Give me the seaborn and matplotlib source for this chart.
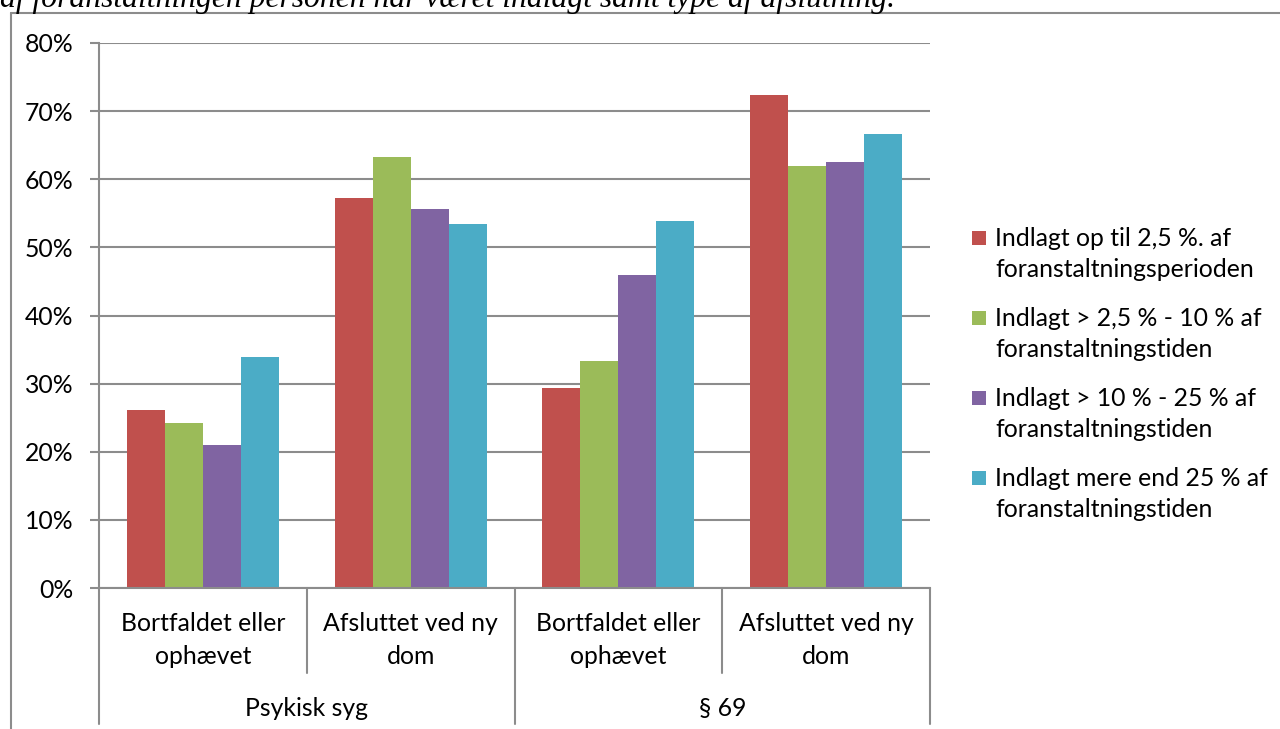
import matplotlib
matplotlib.use("Agg")
import matplotlib.pyplot as plt
import matplotlib.transforms as mtrans
from matplotlib.lines import Line2D
from matplotlib.patches import Rectangle
import seaborn as sns
import pandas as pd

# ---------------- data ----------------
cat_ids = ["psyk_bort", "psyk_afsl", "p69_bort", "p69_afsl"]
sub_labels = ["Bortfaldet eller\nophævet", "Afsluttet ved ny\ndom",
              "Bortfaldet eller\nophævet", "Afsluttet ved ny\ndom"]
group_labels = ["Psykisk syg", "§ 69"]
series_labels = [
    "Indlagt op til 2,5 %. af\nforanstaltningsperioden",
    "Indlagt > 2,5 % - 10 % af\nforanstaltningstiden",
    "Indlagt > 10 % - 25 % af\nforanstaltningstiden",
    "Indlagt mere end 25 % af\nforanstaltningstiden",
]
vals_s1 = [0.261, 0.572, 0.293, 0.723]
vals_s2 = [0.242, 0.632, 0.333, 0.620]
vals_s3 = [0.210, 0.557, 0.459, 0.625]
vals_s4 = [0.339, 0.535, 0.538, 0.667]
colors = ["#C0504D", "#9BBB59", "#8064A2", "#4BACC6"]
ytick_vals = [0.0, 0.1, 0.2, 0.3, 0.4, 0.5, 0.6, 0.7, 0.8]
ytick_labels = ["0%", "10%", "20%", "30%", "40%", "50%", "60%", "70%", "80%"]
caption = "af foranstaltningen personen har været indlagt samt type af afslutning."

rows = []
for lab, vals in zip(series_labels, [vals_s1, vals_s2, vals_s3, vals_s4]):
    for c, v in zip(cat_ids, vals):
        rows.append({"cat": c, "series": lab, "val": v})
df = pd.DataFrame(rows)

# ---------------- figure ----------------
sns.set_theme(style="white")
plt.rcParams["font.family"] = ["Lato", "DejaVu Sans"]

W, H = 1280, 729
fig = plt.figure(figsize=(W / 100, H / 100), dpi=100)
fig.patch.set_facecolor("white")


def fx(px):
    return px / W


def fy(py):
    return 1 - py / H


GRID = "#8c8c8c"
FS = 17.8

ax = fig.add_axes([fx(99), fy(588), fx(930) - fx(99), fy(43) - fy(588)])
sns.barplot(data=df, x="cat", y="val", hue="series", order=cat_ids,
            hue_order=series_labels, palette=colors, saturation=1,
            width=0.732, linewidth=0, errorbar=None, legend=False, ax=ax)

ax.set_xlim(-0.5, 3.5)
ax.set_ylim(0, 0.8)
ax.set_yticks(ytick_vals)
ax.set_yticklabels(ytick_labels)
ax.set_xticks([])
ax.set_xlabel("")
ax.set_ylabel("")
ax.yaxis.grid(True, color=GRID, lw=1.5)
ax.set_axisbelow(True)
for s in ["top", "right"]:
    ax.spines[s].set_visible(False)
for s in ["left", "bottom"]:
    ax.spines[s].set_color(GRID)
    ax.spines[s].set_linewidth(1.5)
ax.tick_params(axis="y", which="major", left=True, length=6.5, width=1.5,
               color=GRID, pad=12, labelsize=FS, labelcolor="black")
ax.set_facecolor("white")

# category axis separators and labels
blend = mtrans.blended_transform_factory(ax.transData, fig.transFigure)
for xv, bottom_px in [(-0.5, 724), (0.5, 673), (1.5, 724), (2.5, 673), (3.5, 724)]:
    ax.add_line(Line2D([xv, xv], [fy(588), fy(bottom_px)], transform=blend,
                       color=GRID, lw=1.5, clip_on=False))
for i, lab in enumerate(sub_labels):
    ax.text(i, fy(640), lab, transform=blend, ha="center", va="center",
            fontsize=FS, linespacing=1.55, color="black")
for j, lab in enumerate(group_labels):
    ax.text(0.5 + 2 * j, fy(708), lab, transform=blend, ha="center",
            va="center", fontsize=FS, color="black")

# legend (manual)
for k, (lab, col) in enumerate(zip(series_labels, colors)):
    cy = 238 + 80 * k
    fig.add_artist(Rectangle((fx(972), fy(cy + 7)), fx(14), 14 / H,
                             transform=fig.transFigure, facecolor=col,
                             edgecolor="none"))
    fig.text(fx(995), fy(cy + 16), lab, ha="left", va="center",
             fontsize=FS, linespacing=1.45, color="black")

# outer frame
fig.add_artist(Line2D([fx(11), 1], [fy(13), fy(13)], transform=fig.transFigure,
                      color=GRID, lw=1.5))
fig.add_artist(Line2D([fx(11), fx(11)], [fy(13), 0], transform=fig.transFigure,
                      color=GRID, lw=1.5))

# clipped caption at top (the reference shows it cut by the image edge)
t = fig.text(0.0, fy(7), caption, ha="left", va="baseline", fontsize=20,
             family=["Liberation Serif", "DejaVu Serif"], style="italic",
             color="black")
fig.canvas.draw()
w = t.get_window_extent().width
t.set_fontsize(20 * 895 / w)

fig.savefig("out.png", dpi=100)
